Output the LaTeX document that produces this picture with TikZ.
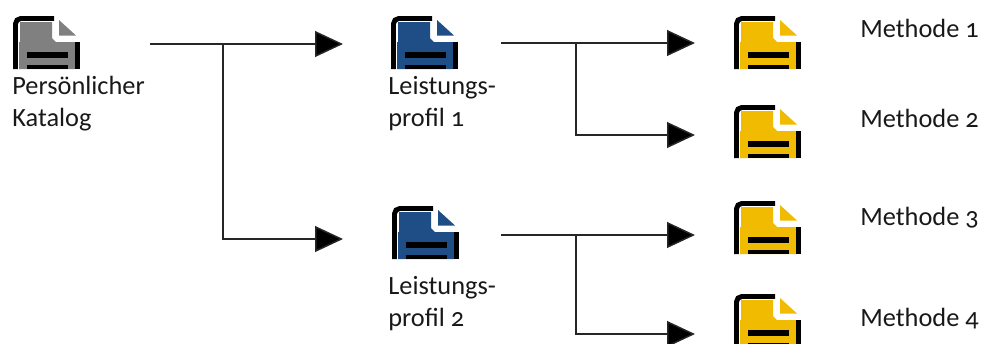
\documentclass[tikz,border=0pt]{standalone}
\usepackage{fontspec}
\setmainfont[Numbers=OldStyle]{Carlito}
\usetikzlibrary{arrows.meta}
\definecolor{katgray}{HTML}{808080}
\definecolor{profblue}{HTML}{1F4E86}
\definecolor{methyellow}{HTML}{F0BB00}
\tikzset{
    conn/.style={line width=0.85pt, black!85},
    arr/.style={conn, -{Triangle[length=15.9pt,width=14.7pt,fill=black]}},
    txt/.style={inner sep=0pt, anchor=base west, font=\fontsize{15pt}{18.1pt}\selectfont, text=black!90},
    bar/.style={line width=2.8pt},
}
\newcommand{\docicon}[4]{
    \node[inner sep=0pt, minimum width=1.34cm, minimum height=1.06cm, anchor=north west] (#1) at (#2,#3) {};
    \begin{scope}[shift={(#2,#3)}]
        \fill [#4] (7,6) -- (39,6) -- (39,22) -- (43,26) -- (62,26) -- (62,53) -- (6,53) -- (6,26) -- (7,26) -- cycle;
        \fill [#4] (46,4) -- (63,19.5) -- (46,19.5) -- cycle;
        \draw [bar, rounded corners=3pt] (2.5,53) -- (2.5,2.5) -- (41,2.5);
        \draw [bar] (64.5,26) -- (64.5,53);
        \fill [black] (14,36) rectangle (55,42);
        \fill [black] (14,49) rectangle (55,53);
    \end{scope}
}
\begin{document}
\begin{tikzpicture}[x=0.02cm, y=-0.02cm]
    \useasboundingbox (0,0) rectangle (986,343);
    \clip (0,0) rectangle (986,343);
    \docicon{kat}{13}{16}{katgray}
    \docicon{prof1}{391}{16}{profblue}
    \docicon{prof2}{392}{206}{profblue}
    \docicon{meth1}{734}{16}{methyellow}
    \docicon{meth2}{734}{105}{methyellow}
    \docicon{meth3}{734}{201}{methyellow}
    \docicon{meth4}{734}{294}{methyellow}

    \node[txt, align=left] (katlabel) at (12,126) {Persönlicher\\Katalog};
    \node[txt, align=left] (prof1label) at (388,126) {Leistungs-\\profil 1};
    \node[txt, align=left] (prof2label) at (388,326) {Leistungs-\\profil 2};
    \node[txt] (meth1label) at (860,37) {Methode 1};
    \node[txt] (meth2label) at (860,127) {Methode 2};
    \node[txt] (meth3label) at (860,225) {Methode 3};
    \node[txt] (meth4label) at (860,326) {Methode 4};

    \coordinate (katout) at (150,44);
    \coordinate (katfork) at (223,44);
    \coordinate (prof1in) at (343,44);
    \coordinate (prof2in) at (343,239);
    \coordinate (prof1out) at (501,43);
    \coordinate (prof1fork) at (576,43);
    \coordinate (meth1in) at (695,43);
    \coordinate (meth2in) at (695,135);
    \coordinate (prof2out) at (501,235);
    \coordinate (prof2fork) at (576,235);
    \coordinate (meth3in) at (695,235);
    \coordinate (meth4in) at (695,334);

    \draw [arr] (katout) -- (prof1in);
    \draw [arr] (katfork) |- (prof2in);
    \draw [arr] (prof1out) -- (meth1in);
    \draw [arr] (prof1fork) |- (meth2in);
    \draw [arr] (prof2out) -- (meth3in);
    \draw [arr] (prof2fork) |- (meth4in);
\end{tikzpicture}
\end{document}
